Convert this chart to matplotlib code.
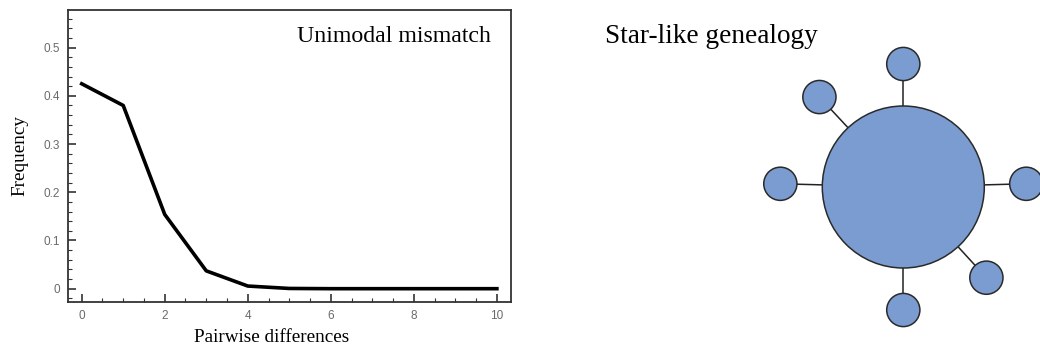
import numpy as np
import matplotlib
matplotlib.use("Agg")
import matplotlib.pyplot as plt
from matplotlib.patches import Circle
from matplotlib.ticker import MultipleLocator, FuncFormatter

# Mismatch distribution
pairwise_diff = [0, 1, 2, 3, 4, 5, 6, 7, 8, 9, 10]
frequency = [0.425, 0.380, 0.154, 0.037, 0.0055, 0.0005, 0.0, 0.0, 0.0, 0.0, 0.0]
x_ticks = [0, 2, 4, 6, 8, 10]
y_ticks = [0, 0.1, 0.2, 0.3, 0.4, 0.5]

# Star-like genealogy: leaf directions (degrees) from the central haplotype
leaf_angles = [90, 133, 178.5, 1.5, -47.5, 270]

serif = ["Liberation Serif", "DejaVu Serif"]
sans = ["Liberation Sans", "DejaVu Sans"]

W, H = 1040, 348
fig = plt.figure(figsize=(W / 100, H / 100), dpi=100)

# ---- Left panel: mismatch distribution ----
ax = fig.add_axes([68 / W, 1 - 302 / H, (511 - 68) / W, (302 - 10) / H])
ax.plot(pairwise_diff, frequency, color="black", lw=2.6, solid_joinstyle="round")
ax.set_xlim(-0.33, 10.34)
ax.set_ylim(-0.0276, 0.578)
ax.set_xticks(x_ticks)
ax.set_yticks(y_ticks)
ax.xaxis.set_minor_locator(MultipleLocator(0.5))
ax.yaxis.set_minor_locator(MultipleLocator(0.02))
ax.yaxis.set_major_formatter(FuncFormatter(lambda v, p: "0" if abs(v) < 1e-9 else f"{v:g}"))
ax.tick_params(which="both", direction="in", color="#333333", labelcolor="#6a6a6a",
               labelsize=8.5)
ax.tick_params(which="major", length=6, width=1.2, pad=6)
ax.tick_params(which="minor", length=3, width=0.8)
ax.tick_params(axis="y", which="both", left=True, right=False)
ax.tick_params(axis="x", which="both", bottom=True, top=False)
for lbl in ax.get_xticklabels() + ax.get_yticklabels():
    lbl.set_family(sans)
for s in ax.spines.values():
    s.set_color("#333333")
    s.set_linewidth(1.3)
ax.set_xlabel("Pairwise differences", family=serif, fontsize=13.8)
ax.set_ylabel("Frequency", family=serif, fontsize=13.8)
ax.xaxis.set_label_coords(0.46, -0.092)
ax.yaxis.set_label_coords(-0.09, 0.5)
ax.text(0.955, 0.89, "Unimodal mismatch", transform=ax.transAxes, ha="right",
        va="baseline", family=serif, fontsize=17.2)

# ---- Right panel: star-like genealogy ----
ax2 = fig.add_axes([0, 0, 1, 1])
ax2.set_xlim(0, W)
ax2.set_ylim(H, 0)
ax2.axis("off")

center = np.array([903.3, 187.0])
big_r = 81.0
leaf_r = 16.6
leaf_dist = 123.0
fill = "#7B9CD1"
edge = "#2a2a2a"

for ang in leaf_angles:
    t = np.deg2rad(ang)
    d = np.array([np.cos(t), -np.sin(t)])
    p = center + d * leaf_dist
    ax2.plot([center[0], p[0]], [center[1], p[1]], color="#222222", lw=1.1, zorder=1)
    ax2.add_patch(Circle(p, leaf_r, facecolor=fill, edgecolor=edge, lw=1.1, zorder=2))

ax2.add_patch(Circle(center, big_r, facecolor=fill, edgecolor=edge, lw=1.1, zorder=3))
ax2.text(605, 43, "Star-like genealogy", family=serif, fontsize=19.6,
         ha="left", va="baseline")

fig.savefig("out.png", dpi=100)
